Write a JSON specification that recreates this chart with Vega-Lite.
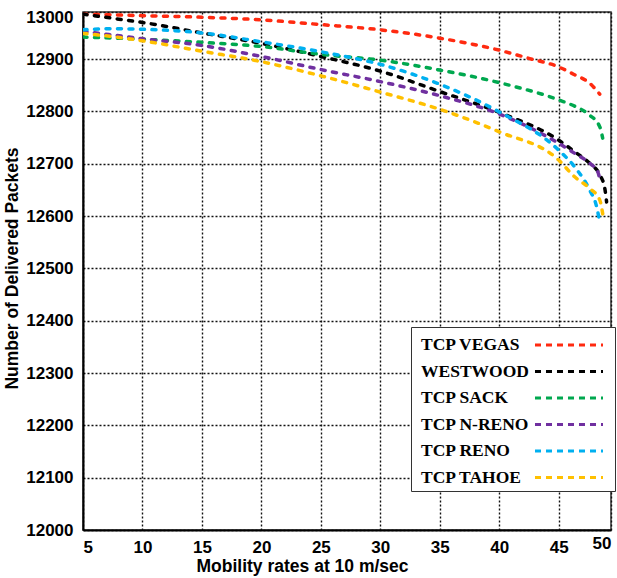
{
  "$schema": "https://vega.github.io/schema/vega-lite/v6.json",
  "width": 528,
  "height": 518,
  "autosize": {"type": "none"},
  "padding": {"left": 83, "top": 12, "right": 6, "bottom": 48},
  "background": "white",
  "config": {
    "view": {"stroke": "#333", "strokeWidth": 1.5},
    "axis": {
      "labelFont": "Liberation Sans",
      "labelFontWeight": "bold",
      "labelFontSize": 17,
      "labelColor": "black",
      "titleFont": "Liberation Sans",
      "titleFontWeight": "bold",
      "titleFontSize": 17.5,
      "titleColor": "black",
      "domainColor": "black",
      "domainWidth": 2,
      "ticks": false,
      "grid": true,
      "gridColor": "#111",
      "gridDash": [2, 2],
      "gridWidth": 1.4,
      "gridOpacity": 1
    }
  },
  "data": {
    "values": [
      {"s": "TCP VEGAS", "x": 5, "y": 12986},
      {"s": "TCP VEGAS", "x": 10, "y": 12983},
      {"s": "TCP VEGAS", "x": 15, "y": 12980},
      {"s": "TCP VEGAS", "x": 20, "y": 12975},
      {"s": "TCP VEGAS", "x": 25, "y": 12966},
      {"s": "TCP VEGAS", "x": 30, "y": 12956},
      {"s": "TCP VEGAS", "x": 35, "y": 12940},
      {"s": "TCP VEGAS", "x": 40, "y": 12917},
      {"s": "TCP VEGAS", "x": 42.56, "y": 12901},
      {"s": "TCP VEGAS", "x": 45, "y": 12885},
      {"s": "TCP VEGAS", "x": 46.34, "y": 12870},
      {"s": "TCP VEGAS", "x": 47.6, "y": 12854},
      {"s": "TCP VEGAS", "x": 48.45, "y": 12833},

      {"s": "WESTWOOD", "x": 5, "y": 12986},
      {"s": "WESTWOOD", "x": 7.5, "y": 12978},
      {"s": "WESTWOOD", "x": 10, "y": 12970},
      {"s": "WESTWOOD", "x": 15, "y": 12950},
      {"s": "WESTWOOD", "x": 20, "y": 12930},
      {"s": "WESTWOOD", "x": 25, "y": 12905},
      {"s": "WESTWOOD", "x": 30, "y": 12877},
      {"s": "WESTWOOD", "x": 35, "y": 12838},
      {"s": "WESTWOOD", "x": 40, "y": 12798},
      {"s": "WESTWOOD", "x": 45, "y": 12745},
      {"s": "WESTWOOD", "x": 46.34, "y": 12723},
      {"s": "WESTWOOD", "x": 47.6, "y": 12701},
      {"s": "WESTWOOD", "x": 48.45, "y": 12679},
      {"s": "WESTWOOD", "x": 48.87, "y": 12654},
      {"s": "WESTWOOD", "x": 49.03, "y": 12627},

      {"s": "TCP SACK", "x": 5, "y": 12942},
      {"s": "TCP SACK", "x": 10, "y": 12938},
      {"s": "TCP SACK", "x": 15, "y": 12932},
      {"s": "TCP SACK", "x": 20, "y": 12924},
      {"s": "TCP SACK", "x": 25, "y": 12909},
      {"s": "TCP SACK", "x": 30, "y": 12898},
      {"s": "TCP SACK", "x": 35, "y": 12879},
      {"s": "TCP SACK", "x": 40, "y": 12855},
      {"s": "TCP SACK", "x": 45, "y": 12822},
      {"s": "TCP SACK", "x": 46.34, "y": 12810},
      {"s": "TCP SACK", "x": 47.6, "y": 12793},
      {"s": "TCP SACK", "x": 48.45, "y": 12771},
      {"s": "TCP SACK", "x": 48.7, "y": 12749},

      {"s": "TCP N-RENO", "x": 5, "y": 12953},
      {"s": "TCP N-RENO", "x": 7.5, "y": 12946},
      {"s": "TCP N-RENO", "x": 10, "y": 12939},
      {"s": "TCP N-RENO", "x": 15, "y": 12926},
      {"s": "TCP N-RENO", "x": 20, "y": 12905},
      {"s": "TCP N-RENO", "x": 25, "y": 12880},
      {"s": "TCP N-RENO", "x": 30, "y": 12857},
      {"s": "TCP N-RENO", "x": 35, "y": 12830},
      {"s": "TCP N-RENO", "x": 40, "y": 12795},
      {"s": "TCP N-RENO", "x": 45, "y": 12739},
      {"s": "TCP N-RENO", "x": 46.34, "y": 12720},
      {"s": "TCP N-RENO", "x": 47.6, "y": 12701},
      {"s": "TCP N-RENO", "x": 48.28, "y": 12685},
      {"s": "TCP N-RENO", "x": 48.53, "y": 12663},

      {"s": "TCP RENO", "x": 5, "y": 12956},
      {"s": "TCP RENO", "x": 7.5, "y": 12958},
      {"s": "TCP RENO", "x": 10, "y": 12957},
      {"s": "TCP RENO", "x": 15, "y": 12950},
      {"s": "TCP RENO", "x": 20, "y": 12933},
      {"s": "TCP RENO", "x": 25, "y": 12914},
      {"s": "TCP RENO", "x": 30, "y": 12890},
      {"s": "TCP RENO", "x": 35, "y": 12852},
      {"s": "TCP RENO", "x": 40, "y": 12799},
      {"s": "TCP RENO", "x": 45, "y": 12726},
      {"s": "TCP RENO", "x": 46.34, "y": 12694},
      {"s": "TCP RENO", "x": 47.6, "y": 12650},
      {"s": "TCP RENO", "x": 48.19, "y": 12618},
      {"s": "TCP RENO", "x": 48.45, "y": 12589},

      {"s": "TCP TAHOE", "x": 5, "y": 12949},
      {"s": "TCP TAHOE", "x": 7.5, "y": 12943},
      {"s": "TCP TAHOE", "x": 10, "y": 12935},
      {"s": "TCP TAHOE", "x": 15, "y": 12915},
      {"s": "TCP TAHOE", "x": 20, "y": 12895},
      {"s": "TCP TAHOE", "x": 25, "y": 12868},
      {"s": "TCP TAHOE", "x": 30, "y": 12837},
      {"s": "TCP TAHOE", "x": 35, "y": 12804},
      {"s": "TCP TAHOE", "x": 40, "y": 12761},
      {"s": "TCP TAHOE", "x": 45, "y": 12707},
      {"s": "TCP TAHOE", "x": 46.34, "y": 12675},
      {"s": "TCP TAHOE", "x": 47.6, "y": 12653},
      {"s": "TCP TAHOE", "x": 48.45, "y": 12631},
      {"s": "TCP TAHOE", "x": 48.78, "y": 12593}
    ]
  },
  "mark": {
    "type": "line",
    "interpolate": "monotone",
    "strokeWidth": 3.5,
    "strokeCap": "round",
    "strokeDash": [4, 7.5],
    "clip": true
  },
  "encoding": {
    "x": {
      "field": "x",
      "type": "quantitative",
      "scale": {"domain": [5, 49.4], "nice": false, "zero": false},
      "axis": {
        "title": "Mobility rates at 10 m/sec",
        "values": [5, 10, 15, 20, 25, 30, 35, 40, 45, 49.4],
        "labelExpr": "datum.value > 49 ? '50' : datum.label",
        "format": "d",
        "labelFlush": true,
        "labelPadding": {"condition": {"test": "datum.value > 49", "value": 5}, "value": 9},
        "titleX": 219,
        "titleY": 27,
        "titleAlign": "center",
        "titleBaseline": "top"
      }
    },
    "y": {
      "field": "y",
      "type": "quantitative",
      "scale": {"domain": [12000, 12990], "nice": false, "zero": false},
      "axis": {
        "title": "Number of Delivered Packets",
        "values": [12000, 12100, 12200, 12300, 12400, 12500, 12600, 12700, 12800, 12900, 12990],
        "labelExpr": "datum.value > 12950 ? '13000' : datum.label",
        "format": "d",
        "labelPadding": 10,
        "labelOffset": {"condition": {"test": "datum.value > 12950", "value": 5}, "value": 0},
        "titleX": -71,
        "titleY": 256,
        "titleAlign": "center",
        "titleBaseline": "middle",
        "titleAngle": -90
      }
    },
    "color": {
      "field": "s",
      "type": "nominal",
      "sort": ["TCP VEGAS", "WESTWOOD", "TCP SACK", "TCP N-RENO", "TCP RENO", "TCP TAHOE"],
      "scale": {
        "domain": ["TCP VEGAS", "WESTWOOD", "TCP SACK", "TCP N-RENO", "TCP RENO", "TCP TAHOE"],
        "range": ["#ff2a10", "#000000", "#00a84f", "#7030a0", "#00b0f0", "#ffc000"]
      },
      "legend": {
        "title": null,
        "orient": "none",
        "legendX": 328,
        "legendY": 315,
        "padding": 5,
        "fillColor": "white",
        "strokeColor": "#333",
        "symbolType": "M-3,0H3",
        "symbolSize": 514,
        "symbolStrokeWidth": 3,
        "symbolDash": [6, 5],
        "symbolOffset": 140,
        "rowPadding": 4.5,
        "labelOffset": -161,
        "labelFont": "Liberation Serif",
        "labelFontWeight": "bold",
        "labelFontSize": 17.5,
        "labelColor": "black",
        "labelLimit": 200
      }
    }
  }
}
